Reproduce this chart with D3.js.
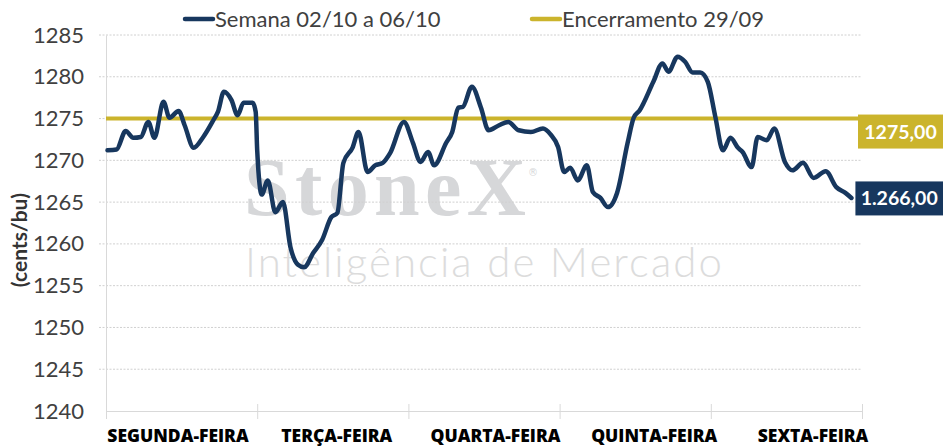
<!DOCTYPE html>
<html>
<head>
<meta charset="utf-8">
<script src="https://cdn.jsdelivr.net/npm/d3@7"></script>
<style>
  body { margin: 0; background: #fff; }
  svg { display: block; }
</style>
</head>
<body>
<div id="chart"></div>
<script>
// dias da semana (eixo x)
var days = ["SEGUNDA-FEIRA", "TERÇA-FEIRA", "QUARTA-FEIRA", "QUINTA-FEIRA", "SEXTA-FEIRA"]

// posição no tempo (em dias desde a abertura de segunda) e preço
var times = [0.01, 0.07, 0.13, 0.18, 0.23, 0.28, 0.32, 0.38, 0.42, 0.48, 0.52, 0.58, 0.64, 0.71, 0.74,
	0.78, 0.83, 0.87, 0.91, 0.97, 0.99, 1.00, 1.03, 1.07, 1.12, 1.17, 1.22, 1.27, 1.31, 1.37,
	1.43, 1.49, 1.53, 1.57, 1.63, 1.67, 1.73, 1.78, 1.83, 1.88, 1.97, 2.03, 2.08, 2.13, 2.17,
	2.25, 2.29, 2.33, 2.36, 2.42, 2.48, 2.53, 2.60, 2.66, 2.73, 2.81, 2.89, 2.94, 2.99, 3.03,
	3.07, 3.12, 3.18, 3.22, 3.27, 3.32, 3.38, 3.45, 3.49, 3.53, 3.62, 3.68, 3.72, 3.78, 3.83,
	3.88, 3.93, 3.98, 4.03, 4.08, 4.13, 4.18, 4.21, 4.27, 4.31, 4.37, 4.42, 4.49, 4.54, 4.61,
	4.68, 4.76, 4.83, 4.89, 4.93]
var prices = [1271.2, 1271.3, 1273.5, 1272.7, 1272.8, 1274.6, 1272.7, 1277.0, 1275.1, 1275.9, 1274.2, 1271.5, 1272.7, 1274.8, 1275.8,
	1278.2, 1277.2, 1275.4, 1276.9, 1276.9, 1275.8, 1271.2, 1265.9, 1267.6, 1263.8, 1265.0, 1259.6, 1257.5, 1257.2, 1258.9,
	1260.5, 1263.2, 1263.7, 1269.7, 1271.5, 1273.4, 1268.6, 1269.4, 1269.7, 1270.9, 1274.6, 1272.1, 1269.8, 1271.0, 1269.4,
	1272.1, 1273.4, 1276.3, 1276.4, 1278.8, 1276.3, 1273.6, 1274.2, 1274.6, 1273.6, 1273.4, 1273.8, 1273.1, 1271.6, 1268.6,
	1269.1, 1267.6, 1269.4, 1266.2, 1265.5, 1264.4, 1266.1, 1272.1, 1275.1, 1276.0, 1279.4, 1281.6, 1280.6, 1282.4, 1281.8,
	1280.5, 1280.5, 1279.4, 1275.2, 1271.2, 1272.7, 1271.5, 1271.0, 1269.2, 1272.8, 1272.4, 1273.8, 1269.8, 1268.8, 1269.7,
	1267.9, 1268.7, 1266.8, 1266.1, 1265.5]

var closePrev = 1275   // encerramento 29/09
var yTicks = [1240, 1245, 1250, 1255, 1260, 1265, 1270, 1275, 1280, 1285]
var seriesNames = ["Semana 02/10 a 06/10", "Encerramento 29/09"]
var endLabels = ["1.266,00", "1275,00"]

var navy = "#17375e", gold = "#cbb42c"

var margin = { top: 35, right: 88, bottom: 37, left: 106 }
var W = 950, H = 448
var width = W - margin.left - margin.right
var height = H - margin.top - margin.bottom

var svg = d3.select("#chart").append("svg")
	.attr("width", W)
	.attr("height", H)

var data = times.map((t, i) => ({ t: t, v: prices[i] }))

var x = d3.scaleLinear().domain([0, days.length]).range([0, width])
var y = d3.scaleLinear().domain([1240, 1285]).range([height, 0])

// marca d'água
var wm = svg.append("g").attr("fill", "#d6d7d9")
wm.append("text")
	.attr("x", 244).attr("y", 215)
	.attr("font-family", "Liberation Serif, serif").attr("font-weight", "bold")
	.attr("font-size", 82).attr("textLength", 282)
	.text("StoneX")
wm.append("text")
	.attr("x", 528).attr("y", 176)
	.attr("font-family", "DejaVu Sans").attr("font-size", 10)
	.text("®")
wm.append("text")
	.attr("x", 245).attr("y", 277)
	.attr("font-family", "Lato").attr("font-weight", 300)
	.attr("font-size", 42).attr("fill", "#dcdcdc")
	.attr("textLength", 477)
	.text("Inteligência de Mercado")

var g = svg.append("g")
	.attr("transform", "translate(" + margin.left + "," + margin.top + ")")

// grade
g.append("g")
	.selectAll("line")
	.data(yTicks.filter(d => d > 1240))
	.enter().append("line")
	.attr("x1", -7).attr("x2", width)
	.attr("y1", d => y(d)).attr("y2", d => y(d))
	.attr("stroke", "#d0d0d0")
	.attr("stroke-dasharray", "2,1.5")

// eixo y
var yAxis = g.append("g")
	.call(d3.axisLeft(y).tickValues(yTicks).tickSize(0).tickPadding(22).tickFormat(d3.format("d")))
yAxis.select(".domain").attr("stroke", "#d9d9d9")
yAxis.selectAll("text")
	.attr("font-family", "Lato").attr("font-size", 22).attr("fill", "#404040")

// eixo x
var xAxis = g.append("g")
	.attr("transform", "translate(0," + height + ")")
	.call(d3.axisBottom(x).tickValues(d3.range(days.length + 1)).tickSize(0).tickFormat(""))
xAxis.select(".domain").attr("stroke", "#d9d9d9")
xAxis.selectAll(".tick line")
	.attr("y1", -7).attr("y2", 8).attr("stroke", "#d9d9d9")

var labelX = d3.scalePoint().domain(days).range([x(0) + 72, x(days.length) - 49])
g.append("g")
	.selectAll("text")
	.data(days)
	.enter().append("text")
	.attr("x", d => labelX(d))
	.attr("y", height + 31)
	.attr("text-anchor", "middle")
	.attr("font-family", "Open Sans").attr("font-weight", 800)
	.attr("font-size", 17.5).attr("fill", "#000")
	.text(d => d)

// título do eixo y
svg.append("text")
	.attr("transform", "translate(27,240) rotate(-90)")
	.attr("text-anchor", "middle")
	.attr("font-family", "Lato").attr("font-weight", "bold")
	.attr("font-size", 21).attr("fill", "#333")
	.text("(cents/bu)")

// linha de referência
g.append("line")
	.attr("x1", x(0)).attr("x2", width)
	.attr("y1", y(closePrev)).attr("y2", y(closePrev))
	.attr("stroke", gold).attr("stroke-width", 4)

// série da semana
var line = d3.line()
	.x(d => x(d.t))
	.y(d => y(d.v))
	.curve(d3.curveMonotoneX)

g.append("path")
	.datum(data)
	.attr("fill", "none")
	.attr("stroke", navy)
	.attr("stroke-width", 4.5)
	.attr("stroke-linejoin", "round")
	.attr("stroke-linecap", "round")
	.attr("d", line)

// rótulos finais
var last = data[data.length - 1]
var boxes = [
	{ text: endLabels[0], fill: navy, cy: y(last.v) + 0.5, x0: x(last.t) + 4 },
	{ text: endLabels[1], fill: gold, cy: y(closePrev) + 13, x0: width - 4 }
]
var bx = g.selectAll(".endbox").data(boxes).enter().append("g").attr("class", "endbox")
bx.append("rect")
	.attr("x", d => d.x0).attr("y", d => d.cy - 17)
	.attr("width", d => 943 - margin.left - d.x0).attr("height", 34)
	.attr("fill", d => d.fill)
bx.append("text")
	.attr("x", d => (d.x0 + 943 - margin.left) / 2)
	.attr("y", d => d.cy + 7)
	.attr("text-anchor", "middle")
	.attr("font-family", "Lato").attr("font-weight", "bold")
	.attr("font-size", 19.5).attr("fill", "#fff")
	.text(d => d.text)

// legenda
var legend = svg.append("g")
var items = [
	{ name: seriesNames[0], color: navy, x: 185 },
	{ name: seriesNames[1], color: gold, x: 532 }
]
var li = legend.selectAll("g").data(items).enter().append("g")
	.attr("transform", d => "translate(" + d.x + ",19)")
li.append("line")
	.attr("x1", 0).attr("x2", 28)
	.attr("stroke", d => d.color).attr("stroke-width", 4.5)
	.attr("stroke-linecap", "round")
li.append("text")
	.attr("x", 30).attr("y", 7.5)
	.attr("font-family", "Lato").attr("font-size", 22).attr("fill", "#404040")
	.text(d => d.name)
</script>
</body>
</html>
